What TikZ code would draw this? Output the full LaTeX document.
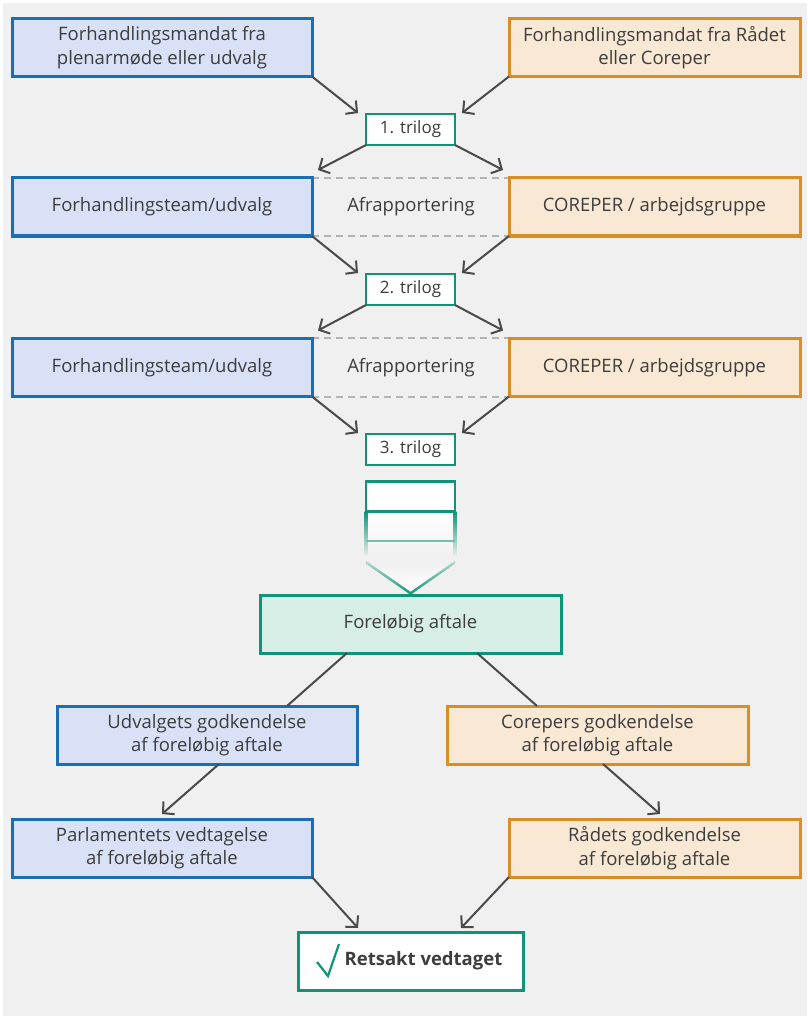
\documentclass[tikz,border=0pt]{standalone}
\usepackage{fontspec}
\setmainfont{Open Sans}
\usetikzlibrary{arrows.meta,calc}
\definecolor{bg}{HTML}{F0F0F0}
\definecolor{blueFill}{HTML}{D9E1F7}
\definecolor{blueLine}{HTML}{1B6EB6}
\definecolor{orangeFill}{HTML}{F9E8D4}
\definecolor{orangeLine}{HTML}{D98D26}
\definecolor{greenLine}{HTML}{0E9577}
\definecolor{greenFill}{HTML}{D6EEE6}
\definecolor{textc}{HTML}{3D3D3D}
\definecolor{arrowc}{HTML}{4A4A4A}
\definecolor{dashc}{HTML}{B3B3B3}
\begin{document}
\begin{tikzpicture}[x=1pt,y=-1pt,
  box/.style={draw, line width=3pt, outer sep=0pt, inner sep=0pt, minimum height=58pt,
    align=center, text=textc, font=\fontsize{18.5}{23.5}\selectfont},
  bluebox/.style={box, draw=blueLine, fill=blueFill, minimum width=300pt},
  orangebox/.style={box, draw=orangeLine, fill=orangeFill, minimum width=291pt},
  trilogbox/.style={box, draw=greenLine, fill=white, minimum width=89pt, minimum height=31pt,
    line width=2.8pt, font=\fontsize{17}{21}\selectfont},
  plainlabel/.style={text=textc, font=\fontsize{18.5}{23.5}\selectfont, inner sep=0pt},
  conn/.style={draw=arrowc, line width=2pt},
  arr/.style={conn, -{Straight Barb[length=8pt,width=17pt]}},
  dashline/.style={draw=dashc, line width=2pt, dash pattern=on 7pt off 5pt}
]
\fill[white] (0,0) rectangle (807,1016);
\fill[bg] (3,3) rectangle (807,1016);
\useasboundingbox (0,0) rectangle (807,1016);

% row 1
\node[bluebox] (m1) at (162,47.5) {Forhandlingsmandat fra\\plenarmøde eller udvalg};
\node[orangebox] (m2) at (654.5,47.5) {Forhandlingsmandat fra Rådet\\eller Coreper};
\node[trilogbox] (t1) at (410.5,129.5) {1. trilog};

% row 2
\draw[dashline] (312,178) -- (509,178);
\draw[dashline] (312,236) -- (509,236);
\node[bluebox] (f1) at (162,207) {Forhandlingsteam/udvalg};
\node[orangebox] (c1) at (654.5,207) {COREPER / arbejdsgruppe};
\node[plainlabel] (a1) at (411,207) {Afrapportering};
\node[trilogbox] (t2) at (410.5,289.5) {2. trilog};

% row 3
\draw[dashline] (312,338) -- (509,338);
\draw[dashline] (312,397) -- (509,397);
\node[bluebox] (f2) at (162,367.5) {Forhandlingsteam/udvalg};
\node[orangebox] (c2) at (654.5,367.5) {COREPER / arbejdsgruppe};
\node[plainlabel] (a2) at (411,367.5) {Afrapportering};
\node[trilogbox] (t3) at (410.5,449.5) {3. trilog};

% fading arrow
\shade[top color=white, bottom color=bg] (366,511.5) rectangle (455,557);
\shade[top color=greenLine, bottom color=bg] (364.6,511.5) rectangle (367.4,557);
\shade[top color=greenLine, bottom color=bg] (453.6,511.5) rectangle (456.4,557);
\draw[greenLine!55!bg, line width=2.8pt] (366,541) -- (455,541);
\draw[greenLine, line width=2.8pt, fill=white] (366,481.5) rectangle (455,511.5);
\shade[top color=bg, bottom color=white] (366,562) -- (410.5,593) -- (455,562) -- cycle;
\shade[top color=greenLine!25!bg, bottom color=greenLine]
  (366,560.8) -- (410.5,591.8) -- (455,560.8) -- (455,563.8) -- (410.5,594.8) -- (366,563.8) -- cycle;

% agreement
\node[box, draw=greenLine, fill=greenFill, minimum width=301pt] (fa) at (410.5,624) {Foreløbig aftale};

% approvals
\node[bluebox] (ud) at (207,735) {Udvalgets godkendelse\\af foreløbig aftale};
\node[orangebox, minimum width=301pt] (co) at (597.5,735) {Corepers godkendelse\\af foreløbig aftale};
\node[bluebox] (pa) at (162,848) {Parlamentets vedtagelse\\af foreløbig aftale};
\node[orangebox] (ra) at (654.5,848) {Rådets godkendelse\\af foreløbig aftale};

% final
\node[box, draw=greenLine, fill=white, minimum width=225pt, font=\bfseries\fontsize{18.5}{22}\selectfont] (rv) at (410.5,961) {\hspace*{26pt}Retsakt vedtaget};
\draw[greenLine, line width=2.2pt] ($(rv.west)+(19pt,-1pt)$) -- ($(rv.west)+(30pt,-15pt)$) -- ($(rv.west)+(41pt,17pt)$);

% connectors
\draw[arr] (m1.south east) -- ($(t1.north west)+(-8pt,1pt)$);
\draw[arr] (m2.south west) -- ($(t1.north east)+(7pt,1pt)$);
\draw[arr] (t1.south west) -- ($(f1.north east)+(6pt,8pt)$);
\draw[arr] (t1.south east) -- ($(c1.north west)+(-6pt,8pt)$);
\draw[arr] (f1.south east) -- ($(t2.north west)+(-8pt,1pt)$);
\draw[arr] (c1.south west) -- ($(t2.north east)+(7pt,1pt)$);
\draw[arr] (t2.south west) -- ($(f2.north east)+(6pt,8pt)$);
\draw[arr] (t2.south east) -- ($(c2.north west)+(-6pt,8pt)$);
\draw[arr] (f2.south east) -- ($(t3.north west)+(-8pt,1pt)$);
\draw[arr] (c2.south west) -- ($(t3.north east)+(7pt,1pt)$);
\draw[conn] ($(fa.south west)+(87pt,0pt)$) -- ($(ud.north east)+(-70pt,0pt)$);
\draw[conn] ($(fa.south east)+(-84pt,0pt)$) -- ($(co.north west)+(90pt,0pt)$);
\draw[arr] ($(ud.south)+(12pt,0pt)$) -- ($(pa.north)+(0pt,5pt)$);
\draw[arr] ($(co.south)+(5.5pt,0pt)$) -- ($(ra.north)+(5.5pt,5pt)$);
\draw[arr] (pa.south east) -- ($(rv.north west)+(60pt,4pt)$);
\draw[arr] (ra.south west) -- ($(rv.north east)+(-62pt,4pt)$);
\end{tikzpicture}
\end{document}
